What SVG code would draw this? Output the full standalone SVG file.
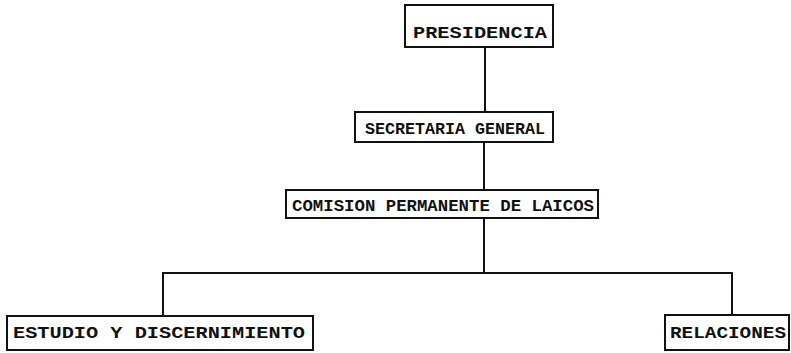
<svg xmlns="http://www.w3.org/2000/svg" width="791" height="353" viewBox="0 0 791 353">
<style>
.box{fill:#fff;stroke:#111;stroke-width:2}
.t{font-family:"Liberation Mono","DejaVu Sans Mono",monospace;font-weight:bold;font-size:17px;fill:#111}
.c{fill:none;stroke:#111;stroke-width:2}
</style>
<rect width="791" height="353" fill="#fff"/>
<g id="connectors">
<line class="c" x1="485" y1="47" x2="485" y2="112"/>
<line class="c" x1="484" y1="142" x2="484" y2="190"/>
<line class="c" x1="484" y1="218" x2="484" y2="273"/>
<polyline class="c" points="163,316 163,273 732,273 732,315"/>
</g>
<g id="presidencia">
<rect class="box" x="405" y="5" width="148" height="42"/>
<text class="t" x="413" y="38" textLength="134" lengthAdjust="spacingAndGlyphs">PRESIDENCIA</text>
</g>
<g id="secretaria">
<rect class="box" x="355" y="112" width="198" height="30"/>
<text class="t" x="365" y="134" textLength="180" lengthAdjust="spacingAndGlyphs">SECRETARIA GENERAL</text>
</g>
<g id="comision">
<rect class="box" x="286" y="190" width="312" height="28"/>
<text class="t" x="292" y="211" textLength="302" lengthAdjust="spacingAndGlyphs">COMISION PERMANENTE DE LAICOS</text>
</g>
<g id="estudio">
<rect class="box" x="7" y="316" width="306" height="34"/>
<text class="t" x="13" y="338" textLength="292" lengthAdjust="spacingAndGlyphs">ESTUDIO Y DISCERNIMIENTO</text>
</g>
<g id="relaciones">
<rect class="box" x="665" y="315" width="124" height="35"/>
<text class="t" x="670" y="338" textLength="116" lengthAdjust="spacingAndGlyphs">RELACIONES</text>
</g>
</svg>
